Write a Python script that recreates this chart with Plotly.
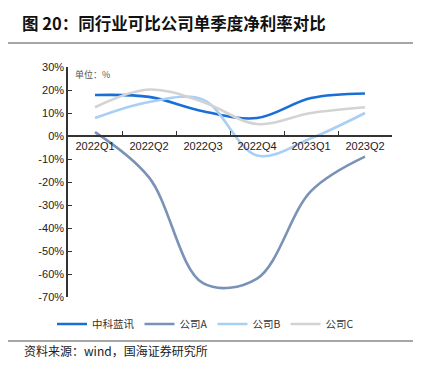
import plotly.graph_objects as go

quarters = ["2022Q1", "2022Q2", "2022Q3", "2022Q4", "2023Q1", "2023Q2"]
zklx = [17.8, 17.0, 10.8, 7.8, 16.5, 18.5]
comp_a = [1.7, -18.0, -64.0, -62.0, -24.0, -9.0]
comp_b = [7.8, 14.8, 15.8, -8.5, -1.0, 10.0]
comp_c = [12.5, 20.2, 14.8, 5.2, 10.0, 12.5]
series_names = ["中科蓝讯", "公司A", "公司B", "公司C"]
colors = ["#1a6fd6", "#7a92b6", "#a8cff4", "#d3d3d3"]
ytick_vals = [30, 20, 10, 0, -10, -20, -30, -40, -50, -60, -70]
ytick_text = ["30%", "20%", "10%", "0%", "-10%", "-20%", "-30%", "-40%", "-50%", "-60%", "-70%"]

cn = "Noto Sans CJK SC"
lat = "Liberation Sans, Arial"

# page has an 8px body margin; figure occupies page px 8..424 x 8..368
OFF = 8
W, H = 424 - OFF, 368 - OFF
PL, PR, PT, PB = 68, 392, 67, 297  # plot area in page pixels


def px(x):
    return (x - PL) / (PR - PL)


def py(y):
    return (PB - y) / (PB - PT)


fig = go.Figure()
for name, vals, col in zip(series_names, [zklx, comp_a, comp_b, comp_c], colors):
    fig.add_trace(go.Scatter(x=quarters, y=vals, name=name, mode="lines",
                             line=dict(color=col, width=2.6, shape="spline", smoothing=1.0)))

fig.update_layout(
    width=W, height=H,
    margin=dict(l=PL - OFF, r=424 - PR, t=PT - OFF, b=368 - PB),
    paper_bgcolor="white", plot_bgcolor="white",
    showlegend=True,
    legend=dict(orientation="h", x=px(52), xanchor="left", y=py(324), yanchor="middle",
                font=dict(family=cn, size=10.5, color="#333"), itemwidth=30,
                tracegroupgap=0, bgcolor="rgba(0,0,0,0)"),
    title=dict(text="<b>图 20：同行业可比公司单季度净利率对比</b>", xref="container", yref="container",
               x=(22 - OFF) / W, xanchor="left", y=1 - (24 - OFF) / H, yanchor="middle",
               font=dict(family=cn, size=16.5, color="#111")),
    xaxis=dict(type="category", range=[-0.5, 5.5], anchor="free", position=py(136),
               showline=True, linecolor="#333", linewidth=1.5,
               ticks="inside", tickson="boundaries", ticklen=4, tickcolor="#333", tickwidth=1.2,
               showgrid=False, zeroline=False,
               tickfont=dict(family=lat, size=11, color="#222")),
    yaxis=dict(range=[-70, 30], tickvals=ytick_vals, ticktext=ytick_text,
               showline=True, linecolor="#333", linewidth=1.5,
               ticks="inside", ticklen=4, tickcolor="#333", tickwidth=1.2,
               showgrid=False, zeroline=False,
               tickfont=dict(family=lat, size=11, color="#222")),
)

fig.add_annotation(text="单位：%", xref="paper", yref="paper", x=px(73), y=py(74),
                   xanchor="left", yanchor="middle", showarrow=False,
                   font=dict(family=cn, size=9, color="#555"))
fig.add_annotation(text="资料来源：wind，国海证券研究所", xref="paper", yref="paper",
                   x=px(22), y=py(350), xanchor="left", yanchor="middle",
                   showarrow=False, font=dict(family=cn, size=12, color="#222"))
fig.add_shape(type="line", xref="paper", yref="paper", x0=px(OFF), x1=px(413),
              y0=py(43), y1=py(43), line=dict(color="#888", width=1.5))
fig.add_shape(type="line", xref="paper", yref="paper", x0=px(OFF), x1=px(413),
              y0=py(341), y1=py(341), line=dict(color="#888", width=1.5))

fig.write_html("out.html")
